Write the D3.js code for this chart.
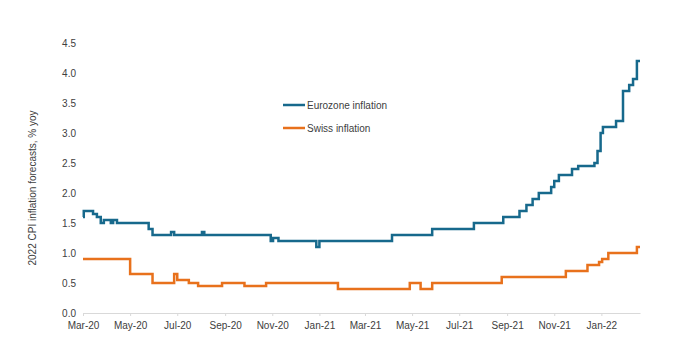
<!DOCTYPE html>
<html>
<head>
<meta charset="utf-8">
<script src="https://cdn.jsdelivr.net/npm/d3@7"></script>
<style>
  body { margin: 0; background: #fff; }
  text { font-family: "Liberation Sans", Arial, sans-serif; fill: #404040; }
</style>
</head>
<body>
<div class="graph"></div>
<script>
// data (step series, value holds until next date)
let euroDates = ['2020-03-01','2020-03-02','2020-03-14','2020-03-19','2020-03-24','2020-03-28','2020-04-06','2020-04-09','2020-04-14',
  '2020-05-25','2020-05-30','2020-06-23','2020-06-27','2020-08-02','2020-08-05','2020-10-30','2020-11-02','2020-11-09',
  '2020-12-28','2021-01-01','2021-04-05','2021-05-27','2021-07-20','2021-08-27','2021-09-17','2021-09-26','2021-10-04',
  '2021-10-12','2021-10-28','2021-11-01','2021-11-07','2021-11-24','2021-12-02','2021-12-23','2021-12-27','2021-12-31',
  '2022-01-03','2022-01-20','2022-01-29','2022-02-06','2022-02-11','2022-02-16','2022-02-20']
let euroValues = [1.6,1.7,1.65,1.6,1.5,1.55,1.5,1.55,1.5,
  1.4,1.3,1.35,1.3,1.35,1.3,1.2,1.25,1.2,
  1.1,1.2,1.3,1.4,1.5,1.6,1.7,1.8,1.9,
  2.0,2.1,2.2,2.3,2.4,2.45,2.5,2.7,3.0,
  3.1,3.2,3.7,3.8,3.9,4.2,4.2]

let swissDates = ['2020-03-01','2020-05-01','2020-05-30','2020-06-27','2020-07-01','2020-07-16','2020-07-28','2020-08-28',
  '2020-09-26','2020-10-24','2021-01-25','2021-04-28','2021-05-12','2021-05-27','2021-08-25','2021-11-16','2021-12-14',
  '2021-12-29','2022-01-02','2022-01-10','2022-02-16','2022-02-20']
let swissValues = [0.9,0.65,0.5,0.65,0.55,0.5,0.45,0.5,
  0.45,0.5,0.4,0.5,0.4,0.5,0.6,0.7,0.8,
  0.85,0.9,1.0,1.1,1.1]

let yTicks = [0,0.5,1,1.5,2,2.5,3,3.5,4,4.5]
let xTickDates = ['2020-03-01','2020-05-01','2020-07-01','2020-09-01','2020-11-01','2021-01-01','2021-03-01',
  '2021-05-01','2021-07-01','2021-09-01','2021-11-01','2022-01-01']

let seriesNames = ['Eurozone inflation','Swiss inflation']
let colors = ['#17698c','#e8711c']

let svgWidth = 680
let svgHeight = 352

let parse = d3.timeParse('%Y-%m-%d')

let euro = euroDates.map((d, i) => ({date: parse(d), value: euroValues[i]}))
let swiss = swissDates.map((d, i) => ({date: parse(d), value: swissValues[i]}))

let svg = d3.select('.graph')
  .append('svg')
  .attr('width', svgWidth)
  .attr('height', svgHeight)

// scales
let xScale = d3.scaleTime()
  .domain([parse('2020-03-01'), parse('2022-02-20')])
  .range([83, 640])
let yScale = d3.scaleLinear()
  .domain([0, 4.5])
  .range([313, 43])

// x axis
let xAxis = d3.axisBottom(xScale)
  .tickValues(xTickDates.map(parse))
  .tickFormat(d3.timeFormat('%b-%y'))
  .tickSize(3)
  .tickSizeOuter(0)

let gx = svg.append('g')
  .attr('id', 'x-axis')
  .attr('transform', 'translate(0,313)')
  .call(xAxis)
gx.select('.domain').attr('stroke', '#d9d9d9')
gx.selectAll('.tick line').attr('stroke', '#d9d9d9')
gx.selectAll('.tick text')
  .attr('dy', '0.95em')
  .style('font-size', '10px')
  .style('font-family', '"Liberation Sans", Arial, sans-serif')
  .attr('fill', '#404040')

// y axis (labels only)
let yAxis = d3.axisLeft(yScale)
  .tickValues(yTicks)
  .tickFormat(d3.format('.1f'))
  .tickSize(0)
  .tickPadding(0)

let gy = svg.append('g')
  .attr('id', 'y-axis')
  .attr('transform', 'translate(76,0)')
  .call(yAxis)
gy.select('.domain').remove()
gy.selectAll('.tick text')
  .style('font-size', '10px')
  .style('font-family', '"Liberation Sans", Arial, sans-serif')
  .attr('fill', '#404040')

// y title
svg.append('text')
  .attr('transform', 'translate(33,188) rotate(-90)')
  .attr('text-anchor', 'middle')
  .attr('dominant-baseline', 'middle')
  .style('font-size', '10px')
  .text('2022 CPI inflation forecasts, % yoy')

// lines
let line = d3.line()
  .x(d => xScale(d.date))
  .y(d => yScale(d.value))
  .curve(d3.curveStepAfter)

svg.append('path')
  .datum(swiss)
  .attr('d', line)
  .attr('fill', 'none')
  .attr('stroke', colors[1])
  .attr('stroke-width', 2.5)

svg.append('path')
  .datum(euro)
  .attr('d', line)
  .attr('fill', 'none')
  .attr('stroke', colors[0])
  .attr('stroke-width', 2.5)

// legend
let legend = svg.append('g')
  .attr('transform', 'translate(283,105)')
seriesNames.forEach((name, i) => {
  let g = legend.append('g').attr('transform', `translate(0,${i * 23})`)
  g.append('line')
    .attr('x1', 0).attr('x2', 22)
    .attr('stroke', colors[i])
    .attr('stroke-width', 2.5)
  g.append('text')
    .attr('x', 24)
    .attr('dy', '0.35em')
    .style('font-size', '10px')
    .text(name)
})
</script>
</body>
</html>
